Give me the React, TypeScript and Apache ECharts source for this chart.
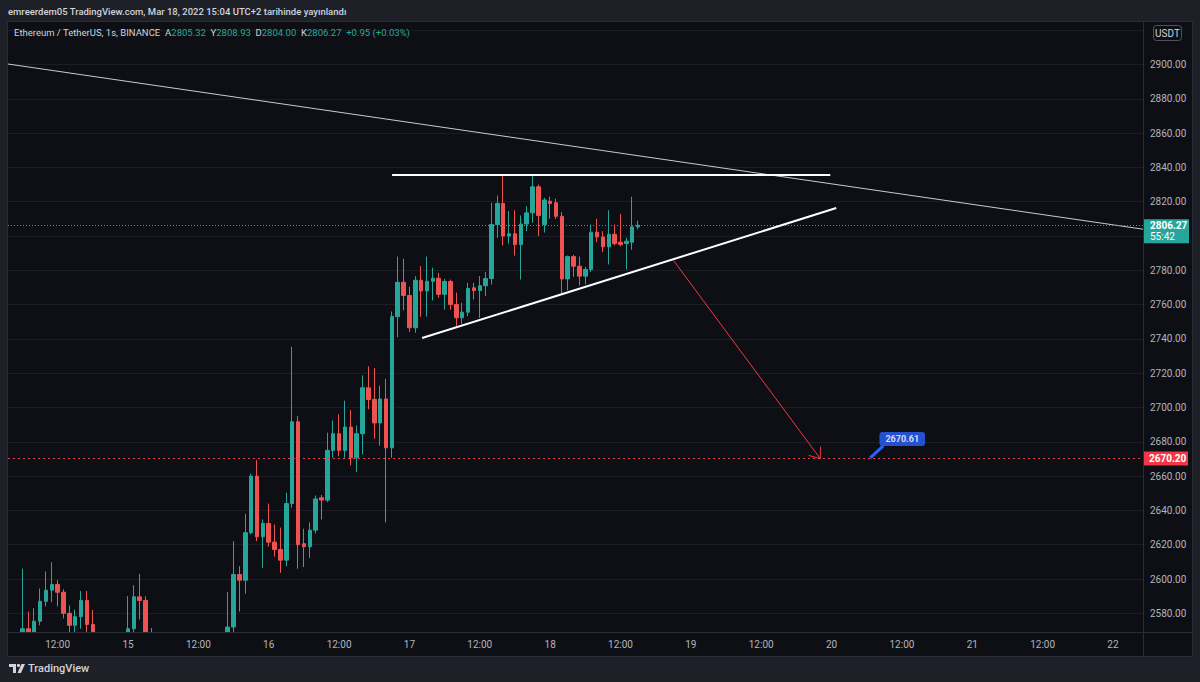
import React, { useEffect, useRef } from "react";
import * as echarts from "echarts";

// ---------- DATA (hourly candles, hour index counted from Mar 14 00:00) ----------
const firstHour = 4;
const opens = [
  2552, 2548, 2556, 2571, 2562, 2575.4, 2587, 2593.5, 2596.8, 2592.3, 2580, 2573,
  2578, 2587.5, 2573.5, 2562, 2556, 2549, 2553, 2547, 2558, 2571, 2589.6, 2587.5,
  2560, 2565, 2558, 2552, 2548, 2555, 2550, 2544, 2549, 2553, 2547, 2552,
  2556, 2560, 2572, 2602.6, 2599.3, 2627, 2660, 2624.6, 2632.4, 2621.5, 2617.2, 2611,
  2644, 2691.7, 2620.6, 2618.8, 2628.5, 2647.4, 2646, 2675, 2684.7, 2675, 2688.6, 2670.7,
  2684.7, 2711.5, 2704.7, 2691, 2705, 2676.5, 2753, 2773, 2765.3, 2746.5, 2774.2, 2768,
  2773.6, 2775.4, 2766, 2773.5, 2760, 2752.3, 2755.6, 2769.8, 2768.2, 2771, 2775.2, 2806.7,
  2819, 2800, 2801.3, 2795, 2807, 2813.5, 2828.7, 2806.7, 2820.3, 2819.4, 2811.5, 2775,
  2788, 2782.4, 2776.6, 2780.5, 2802.2, 2799.5, 2793.7, 2801, 2796.4, 2795.6, 2796.4, 2805.32,
];
const highs = [
  2562, 2560, 2606, 2581, 2583, 2594.5, 2604.4, 2609.8, 2599.3, 2594, 2584.5, 2582.2,
  2593, 2593, 2582, 2566, 2560, 2558, 2557, 2563, 2590, 2596.4, 2603, 2590,
  2571.5, 2568, 2562, 2556, 2559, 2560, 2553, 2554, 2558, 2557, 2556, 2561,
  2565, 2592.5, 2622, 2607.5, 2638, 2661.5, 2669.3, 2634.7, 2644, 2631.8, 2630, 2650.3,
  2735.4, 2695, 2629.3, 2633, 2648.7, 2649, 2685.3, 2692.4, 2696, 2704, 2698.5, 2689.5,
  2718.7, 2724, 2723, 2712.8, 2716.7, 2756, 2788, 2786.7, 2770.4, 2776.6, 2782.4, 2788,
  2781.5, 2778.5, 2775, 2774.6, 2767, 2761, 2772.7, 2772.7, 2776.6, 2779, 2819.4, 2823.6,
  2836, 2814.5, 2815, 2812, 2817.4, 2835, 2830, 2822.3, 2823, 2821.7, 2814, 2788.6,
  2789, 2788, 2782, 2806.7, 2810, 2802.8, 2815, 2806.7, 2813, 2799, 2822.9, 2808.93,
];
const lows = [
  2540, 2538, 2550, 2555, 2555, 2573, 2584, 2586.5, 2584, 2577, 2567, 2568,
  2571, 2566, 2555, 2548, 2541, 2543, 2539, 2544, 2555, 2568, 2576.4, 2555,
  2552, 2550, 2546, 2541, 2543, 2545, 2537, 2539, 2545, 2542, 2543, 2548,
  2551, 2556, 2568, 2581, 2591.5, 2626, 2622, 2606.5, 2618.8, 2613, 2603.6, 2607.5,
  2641.5, 2606, 2607, 2612.3, 2626.5, 2634.7, 2644.8, 2670.7, 2671.6, 2670.7, 2666.2, 2662.3,
  2672.6, 2699, 2681.8, 2677.8, 2633, 2670.7, 2741, 2756.7, 2744, 2743.6, 2752.9, 2753,
  2762.4, 2764, 2757, 2757, 2747.5, 2748.8, 2753.2, 2763, 2752.3, 2765, 2771.7, 2799,
  2794.5, 2795.6, 2788.6, 2774.6, 2802.8, 2807.7, 2800, 2802, 2810, 2810, 2766.5, 2768.4,
  2776.2, 2771.1, 2771.7, 2779, 2796.4, 2790.6, 2783.4, 2794.5, 2794, 2780.5, 2792, 2804.0,
];
const closes = [
  2548, 2556, 2571, 2562, 2575.4, 2587, 2593.5, 2596.8, 2592.3, 2580, 2573, 2578,
  2587.5, 2573.5, 2562, 2556, 2549, 2553, 2547, 2558, 2571, 2589.6, 2587.5, 2560,
  2565, 2558, 2552, 2548, 2555, 2550, 2544, 2549, 2553, 2547, 2552, 2556,
  2560, 2572, 2602.6, 2599.3, 2627, 2660, 2624.6, 2632.4, 2621.5, 2617.2, 2611, 2644,
  2691.7, 2620, 2618.8, 2628.5, 2646.7, 2646, 2675, 2684.7, 2675, 2688.6, 2670.7, 2684.7,
  2711.5, 2704.7, 2691, 2705, 2676.5, 2753, 2773, 2765.3, 2746.5, 2774.2, 2768, 2773.6,
  2775.4, 2766, 2773.5, 2760, 2752.3, 2755.6, 2769.4, 2768.2, 2771, 2775.2, 2806.7, 2819,
  2800, 2801.3, 2795, 2807, 2813.5, 2828.7, 2812, 2821, 2819, 2811.5, 2775, 2788,
  2782.4, 2776.6, 2780.5, 2802.2, 2799.5, 2793.7, 2801, 2795.6, 2795, 2797, 2805.32, 2806.27,
];

const gridPrices = [2580, 2600, 2620, 2640, 2660, 2680, 2700, 2720, 2740, 2760, 2780, 2800, 2820, 2840, 2860, 2880, 2900, 2920];
const priceLabels = [2580, 2600, 2620, 2640, 2660, 2680, 2700, 2720, 2740, 2760, 2780, 2820, 2840, 2860, 2880, 2900];
const timeTicks = [12, 24, 36, 48, 60, 72, 84, 96, 108, 120, 132, 144, 156, 168, 180, 192];
const timeTickLabels = ["12:00", "15", "12:00", "16", "12:00", "17", "12:00", "18", "12:00", "19", "12:00", "20", "12:00", "21", "12:00", "22"];

const countdown = "55:42";
const targetLine = 2670.2;
const noteValue = 2670.61;
const noteAnchor = [150.6, 2670.61];

// drawings: [hour, price]
const longTrend = [[3.53, 2900.3], [197.1, 2804.0]];
const resistance = [[69.04, 2835.6], [143.78, 2835.6]];
const support = [[74.16, 2740.5], [144.8, 2816.3]];
const arrow = [[116.99, 2786.0], [142.07, 2670.2]];

const headerText = "emreerdem05 TradingView.com, Mar 18, 2022 15:04 UTC+2 tarihinde yayınlandı";
const symbolText = "Ethereum / TetherUS, 1s, BINANCE";

// ---------- LAYOUT ----------
const W = 1200, H = 682;
const G = { left: 8, top: 22, right: 1143, bottom: 632 };
const X_MIN = 3.53, X_MAX = 197.12;
const Y_MIN = 2569.1, Y_MAX = 2924.8;
const kx = (G.right - G.left) / (X_MAX - X_MIN);
const ky = (G.bottom - G.top) / (Y_MAX - Y_MIN);

const UP = "#26a69a";
const DOWN = "#ef5350";
const PANE = "#0e0f14";
const OUTER = "#1e2028";
const BORDER = "#2a2d36";
const FONT = "Roboto, 'Noto Sans', sans-serif";

function arrowHead(): number[][] {
  const [p0, p1] = arrow;
  const dx = (p1[0] - p0[0]) * kx;
  const dy = (p1[1] - p0[1]) * ky;
  const len = Math.hypot(dx, dy);
  const ux = -dx / len, uy = -dy / len;
  const L = 12, a = (38 * Math.PI) / 180;
  const wing = (s: number) => {
    const c = Math.cos(s * a), sn = Math.sin(s * a);
    const rx = ux * c - uy * sn, ry = ux * sn + uy * c;
    return [p1[0] + (rx * L) / kx, p1[1] + (ry * L) / ky];
  };
  return [wing(1), p1, wing(-1)];
}

export default function App() {
  const ref = useRef<HTMLDivElement>(null);
  useEffect(() => {
    if (!ref.current) return;
    const chart = echarts.init(ref.current, undefined, { renderer: "svg" });
    const n = opens.length;
    const candles = opens.map((o, k) => [firstHour + k, o, closes[k], lows[k], highs[k]]);
    const lastO = opens[n - 1], lastH = highs[n - 1], lastL = lows[n - 1], lastC = closes[n - 1];
    const chg = lastC - closes[n - 2];
    const pct = (chg / closes[n - 2]) * 100;
    const sign = chg >= 0 ? "+" : "";
    const pointerEnd = [noteAnchor[0] + 13 / kx, noteAnchor[1] + 12 / ky];

    const lineSeries = (data: number[][], color: string, width: number, z = 5) => ({
      type: "line",
      data,
      symbol: "none",
      silent: true,
      animation: false,
      z,
      lineStyle: { color, width },
    });

    const baseGraphic: any[] = [
      // time-scale strip (hides candle parts that fall below the pane)
      { type: "rect", z: 90, silent: true, shape: { x: G.left, y: G.bottom, width: G.right - G.left, height: 656 - G.bottom }, style: { fill: PANE } },
      // outer frame
      { type: "rect", z: 100, silent: true, shape: { x: 0, y: 0, width: W, height: G.top }, style: { fill: OUTER } },
      { type: "rect", z: 100, silent: true, shape: { x: 0, y: 656, width: W, height: H - 656 }, style: { fill: OUTER } },
      { type: "rect", z: 100, silent: true, shape: { x: 0, y: 0, width: G.left, height: H }, style: { fill: OUTER } },
      { type: "rect", z: 100, silent: true, shape: { x: 1192, y: 0, width: W - 1192, height: H }, style: { fill: OUTER } },
      { type: "rect", z: 101, silent: true, shape: { x: G.left - 0.5, y: G.top - 0.5, width: 1192 - G.left + 1, height: 656 - G.top + 1 }, style: { fill: "none", stroke: BORDER, lineWidth: 1 } },
      { type: "line", z: 101, silent: true, shape: { x1: G.right + 0.5, y1: G.top, x2: G.right + 0.5, y2: 656 }, style: { stroke: BORDER, lineWidth: 1 } },
      { type: "line", z: 101, silent: true, shape: { x1: G.left, y1: G.bottom + 0.5, x2: 1192, y2: G.bottom + 0.5 }, style: { stroke: BORDER, lineWidth: 1 } },
      // header
      {
        type: "text", z: 102, silent: true, x: 8, y: 11,
        style: { text: headerText, fill: "#d1d4dc", font: `500 9.5px ${FONT}`, verticalAlign: "middle" },
      },
      // legend
      {
        type: "text", z: 102, silent: true, x: 14, y: 32,
        style: {
          text: `{n|${symbolText}}  {l|A}{v|${lastO.toFixed(2)}}  {l|Y}{v|${lastH.toFixed(2)}}  {l|D}{v|${lastL.toFixed(2)}}  {l|K}{v|${lastC.toFixed(2)}}  {v|${sign}${chg.toFixed(2)} (${sign}${pct.toFixed(2)}%)}`,
          verticalAlign: "middle",
          font: `9.5px ${FONT}`,
          rich: {
            n: { fill: "#d1d4dc", font: `9.5px ${FONT}` },
            l: { fill: "#d1d4dc", font: `9.5px ${FONT}` },
            v: { fill: UP, font: `9.5px ${FONT}` },
          },
        },
      },
      // USDT box
      { type: "rect", z: 102, silent: true, shape: { x: 1153.5, y: 25.5, width: 28, height: 15, r: 3 }, style: { fill: PANE, stroke: "#50535e", lineWidth: 1 } },
      {
        type: "text", z: 103, silent: true, x: 1167.5, y: 33,
        style: { text: "USDT", fill: "#d1d4dc", font: `10px ${FONT}`, align: "center", verticalAlign: "middle" },
      },
      // TradingView logo
      { type: "polygon", z: 102, silent: true, shape: { points: [[9, 664], [16, 664], [16, 673], [13, 673], [13, 667], [9, 667]] }, style: { fill: "#d1d4dc" } },
      { type: "circle", z: 102, silent: true, shape: { cx: 18.5, cy: 665.5, r: 1.6 }, style: { fill: "#d1d4dc" } },
      { type: "polygon", z: 102, silent: true, shape: { points: [[21.5, 664], [25, 664], [21, 673], [17.5, 673]] }, style: { fill: "#d1d4dc" } },
      {
        type: "text", z: 102, silent: true, x: 28, y: 668.5,
        style: { text: "TradingView", fill: "#d1d4dc", font: `500 11px ${FONT}`, verticalAlign: "middle" },
      },
    ];

    chart.setOption({
      animation: false,
      backgroundColor: PANE,
      grid: { left: G.left, top: G.top, width: G.right - G.left, height: G.bottom - G.top, containLabel: false },
      xAxis: {
        type: "value",
        z: 110,
        min: X_MIN,
        max: X_MAX,
        axisLine: { show: false },
        axisTick: { show: false, customValues: timeTicks },
        splitLine: { show: false },
        axisLabel: {
          customValues: timeTicks,
          color: "#b2b5be",
          fontSize: 10,
          fontFamily: FONT,
          margin: 7,
          formatter: (v: number) => {
            const idx = timeTicks.indexOf(Math.round(v));
            return idx >= 0 ? timeTickLabels[idx] : "";
          },
        },
      },
      yAxis: {
        type: "value",
        position: "right",
        min: Y_MIN,
        max: Y_MAX,
        axisLine: { show: false },
        axisTick: { show: false, customValues: gridPrices },
        splitLine: { show: true, lineStyle: { color: "#1b1d25", width: 1 } },
        axisLabel: {
          customValues: priceLabels,
          color: "#b2b5be",
          fontSize: 10,
          fontFamily: FONT,
          margin: 7,
          formatter: (v: number) => v.toFixed(2),
        },
      },
      series: [
        {
          type: "candlestick",
          data: candles,
          encode: { x: 0, y: [1, 2, 3, 4] },
          barWidth: 4,
          clip: true,
          z: 3,
          itemStyle: { color: UP, color0: DOWN, borderColor: UP, borderColor0: DOWN, borderWidth: 1 },
          markLine: {
            silent: true,
            symbol: ["none", "none"],
            animation: false,
            data: [
              {
                yAxis: lastC,
                lineStyle: { color: UP, type: [1, 2], width: 1 },
                label: { show: false },
              },
              {
                yAxis: targetLine,
                lineStyle: { color: "#f23645", type: [2, 3], width: 1 },
                label: {
                  show: true,
                  position: "end",
                  distance: 0,
                  formatter: targetLine.toFixed(2),
                  backgroundColor: "#f23645",
                  color: "#ffffff",
                  fontSize: 10,
                  fontWeight: "bold",
                  fontFamily: FONT,
                  lineHeight: 11,
                  padding: [2, 4, 1, 6],
                  width: 35,
                },
              },
            ],
          },
        },
        lineSeries(longTrend, "#c9cbd1", 1, 4),
        lineSeries(resistance, "#ffffff", 2),
        lineSeries(support, "#ffffff", 2),
        lineSeries(arrow, "#f23645", 1),
        lineSeries(arrowHead(), "#f23645", 1),
        lineSeries([noteAnchor, pointerEnd], "#2962ff", 3, 6),
        {
          type: "scatter",
          data: [noteAnchor],
          symbol: "circle",
          symbolSize: 2,
          itemStyle: { color: "rgba(0,0,0,0)" },
          silent: true,
          z: 7,
          label: {
            show: true,
            position: "top",
            distance: 5,
            offset: [32, -6],
            formatter: noteValue.toFixed(2),
            backgroundColor: "#2962ff",
            borderRadius: 3,
            padding: [3, 6, 2, 6],
            color: "#ffffff",
            fontSize: 9,
            fontWeight: "bold",
            fontFamily: FONT,
          },
        },
      ],
      graphic: baseGraphic,
    });

    // last-price tag on the price scale, placed through the axis scale
    const yPx = chart.convertToPixel({ yAxisIndex: 0 }, lastC) as number;
    chart.setOption({
      graphic: [
        ...baseGraphic,
        { type: "rect", z: 104, silent: true, shape: { x: G.right + 1, y: yPx - 6, width: 45, height: 24 }, style: { fill: UP } },
        {
          type: "text", z: 105, silent: true, x: G.right + 7, y: yPx,
          style: { text: lastC.toFixed(2), fill: "#ffffff", font: `bold 10px ${FONT}`, verticalAlign: "middle" },
        },
        {
          type: "text", z: 105, silent: true, x: G.right + 7, y: yPx + 11,
          style: { text: countdown, fill: "#ffffff", font: `10px ${FONT}`, verticalAlign: "middle" },
        },
      ],
    });
    return () => chart.dispose();
  }, []);
  return (
    <div
      ref={ref}
      style={{ position: "absolute", left: 0, top: 0, width: W, height: H, background: OUTER }}
    />
  );
}
